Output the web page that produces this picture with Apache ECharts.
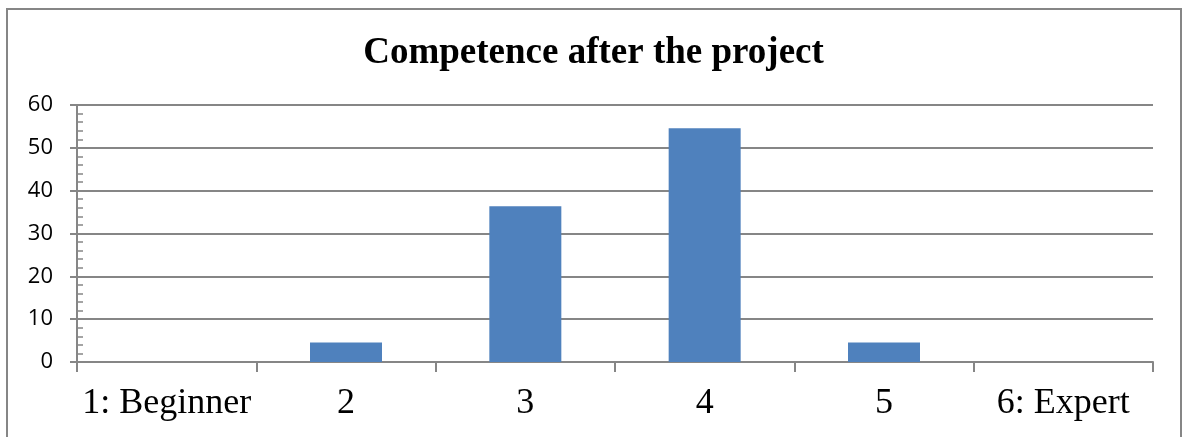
<!DOCTYPE html>
<html>
<head>
<meta charset="utf-8">
<script src="https://cdn.jsdelivr.net/npm/echarts@6/dist/echarts.min.js"></script>
<style>
  html, body { margin: 0; padding: 0; background: #fff; }
  #chart { width: 1187px; height: 437px; }
</style>
</head>
<body>
<div id="chart"></div>
<script>
// Self-rated competence levels after the project (percent of respondents)
const categories = ['1: Beginner', '2', '3', '4', '5', '6: Expert'];
const percentages = [0, 4.55, 36.36, 54.55, 4.55, 0];
const chartTitle = 'Competence after the project';

const gray = '#868686';
const chart = echarts.init(document.getElementById('chart'));

chart.setOption({
  animation: false,
  title: {
    text: chartTitle,
    left: 'center',
    top: 30,
    textStyle: {
      fontFamily: 'Liberation Serif',
      fontWeight: 'bold',
      fontSize: 37,
      color: '#000'
    }
  },
  graphic: [{
    type: 'rect',
    shape: { x: 7, y: 9, width: 1174, height: 440 },
    style: { fill: 'none', stroke: gray, lineWidth: 2 },
    silent: true
  }],
  grid: { left: 77, right: 34, top: 105, bottom: 75 },
  xAxis: {
    type: 'category',
    data: categories,
    boundaryGap: true,
    axisLine: { lineStyle: { color: gray, width: 2 } },
    axisTick: { show: true, length: 10, lineStyle: { color: gray, width: 2 } },
    axisLabel: {
      fontFamily: 'Liberation Serif',
      fontSize: 36,
      color: '#000',
      margin: 24,
      interval: 0
    }
  },
  yAxis: [{
    type: 'value',
    min: 0,
    max: 60,
    interval: 10,
    axisLine: { show: true, lineStyle: { color: gray, width: 2 } },
    axisTick: { show: true, length: 7, lineStyle: { color: gray, width: 2 } },
    splitLine: { lineStyle: { color: gray, width: 2 } },
    axisLabel: {
      fontFamily: 'Open Sans',
      fontSize: 22,
      color: '#000',
      margin: 24
    }
  }, {
    // inner minor ticks every 2 units
    type: 'value',
    position: 'left',
    min: 0,
    max: 60,
    interval: 2,
    axisLine: { show: false },
    axisTick: { show: true, inside: true, length: 6, lineStyle: { color: gray, width: 1.5 } },
    splitLine: { show: false },
    axisLabel: { show: false }
  }],
  series: [{
    type: 'bar',
    data: percentages,
    yAxisIndex: 0,
    barWidth: 72,
    itemStyle: { color: '#4F81BD' }
  }]
});
</script>
</body>
</html>
